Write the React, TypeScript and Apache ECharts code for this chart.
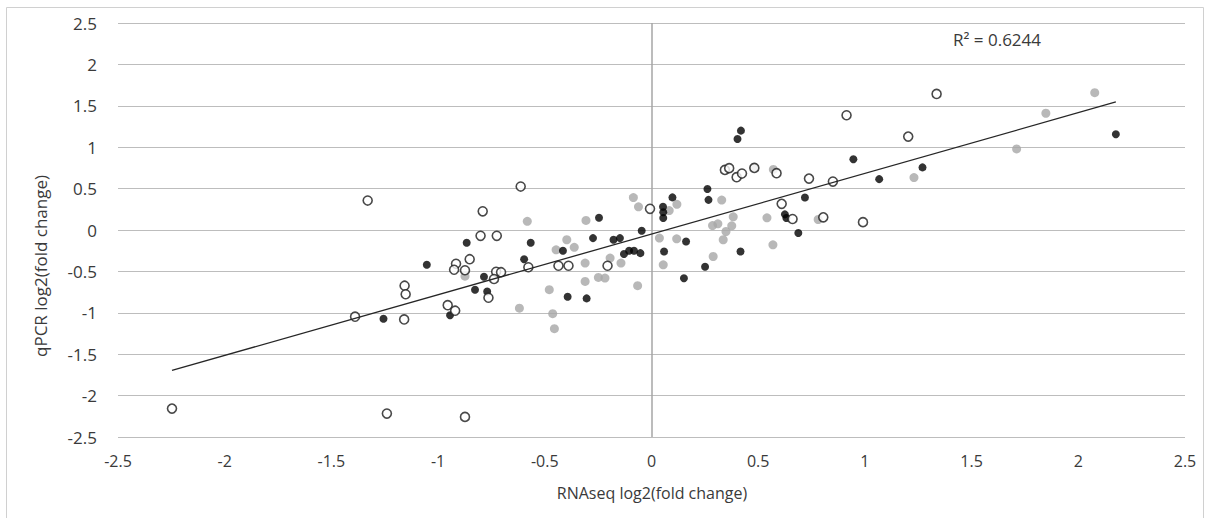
import React, { useEffect, useRef } from "react";
import * as echarts from "echarts";

const xTickMin = -2.5;
const xTickMax = 2.5;
const yTickMin = -2.5;
const yTickMax = 2.5;
const tickStep = 0.5;

const xTitle = "RNAseq log2(fold change)";
const yTitle = "qPCR log2(fold change)";
const r2Label = "R² = 0.6244";

const TREND_SLOPE = 0.733;
const TREND_INTERCEPT = -0.049;

const hollowPoints: [number, number][] = [
  [-2.247, -2.157], [-1.33, 0.356], [-1.24, -2.217], [-1.389, -1.047],
  [-1.157, -0.673], [-1.152, -0.776], [-1.159, -1.08], [-0.955, -0.908],
  [-0.92, -0.975], [-0.916, -0.408], [-0.925, -0.48], [-0.852, -0.353],
  [-0.874, -0.486], [-0.874, -2.257], [-0.613, 0.525], [-0.791, 0.226],
  [-0.801, -0.07], [-0.725, -0.07], [-0.577, -0.45], [-0.728, -0.504],
  [-0.705, -0.51], [-0.738, -0.592], [-0.764, -0.818], [-0.436, -0.432],
  [-0.389, -0.432], [-0.206, -0.432], [-0.007, 0.256], [0.344, 0.726],
  [0.364, 0.747], [0.399, 0.638], [0.424, 0.682], [0.482, 0.75],
  [0.586, 0.686], [0.738, 0.621], [0.85, 0.585], [0.61, 0.316],
  [0.661, 0.133], [0.805, 0.153], [0.991, 0.095], [0.914, 1.386],
  [1.203, 1.128], [1.336, 1.643],
];

const blackPoints: [number, number][] = [
  [-1.256, -1.071], [-1.053, -0.42], [-0.866, -0.154], [-0.827, -0.721],
  [-0.944, -1.029], [-0.785, -0.565], [-0.77, -0.742], [-0.566, -0.154],
  [-0.597, -0.353], [-0.415, -0.251], [-0.393, -0.806], [-0.304, -0.826],
  [-0.274, -0.098], [-0.246, 0.147], [-0.178, -0.118], [-0.148, -0.098],
  [-0.129, -0.29], [-0.105, -0.251], [-0.082, -0.251], [-0.052, -0.279],
  [-0.046, -0.01], [0.054, 0.28], [0.055, 0.215], [0.055, 0.144],
  [0.098, 0.394], [0.262, 0.495], [0.267, 0.364], [0.059, -0.259],
  [0.162, -0.139], [0.152, -0.583], [0.251, -0.444], [0.417, -0.259],
  [0.419, 1.2], [0.403, 1.1], [0.625, 0.189], [0.632, 0.144],
  [0.688, -0.037], [0.719, 0.392], [0.946, 0.855], [1.067, 0.614],
  [1.27, 0.756], [2.176, 1.157],
];

const grayPoints: [number, number][] = [
  [-0.874, -0.558], [-0.582, 0.105], [-0.619, -0.944], [-0.479, -0.721],
  [-0.463, -1.011], [-0.455, -1.192], [-0.447, -0.239], [-0.397, -0.118],
  [-0.362, -0.209], [-0.307, 0.115], [-0.311, -0.399], [-0.311, -0.621],
  [-0.249, -0.573], [-0.218, -0.58], [-0.194, -0.339], [-0.143, -0.399],
  [-0.085, 0.392], [-0.061, 0.28], [-0.065, -0.673], [0.083, 0.234],
  [0.119, 0.31], [0.037, -0.098], [0.118, -0.106], [0.055, -0.42],
  [0.289, -0.32], [0.286, 0.054], [0.311, 0.075], [0.329, 0.361],
  [0.383, 0.159], [0.376, 0.051], [0.349, -0.018], [0.336, -0.118],
  [0.48, 0.756], [0.571, 0.732], [0.541, 0.147], [0.569, -0.179],
  [0.781, 0.127], [1.23, 0.633], [1.711, 0.979], [1.848, 1.41],
  [2.077, 1.659],
];

const FONT = "'Open Sans', 'Noto Sans', sans-serif";
const TEXT_COLOR = "#3a3a3a";

export default function App() {
  const ref = useRef<HTMLDivElement>(null);

  useEffect(() => {
    if (!ref.current) return;
    const chart = echarts.init(ref.current, null, { renderer: "svg" });

    const allX = [...hollowPoints, ...blackPoints, ...grayPoints].map((p) => p[0]);
    const xLo = Math.min(...allX);
    const xHi = Math.max(...allX);
    const trend: [number, number][] = [
      [xLo, TREND_SLOPE * xLo + TREND_INTERCEPT],
      [xHi, TREND_SLOPE * xHi + TREND_INTERCEPT],
    ];

    chart.setOption({
      animation: false,
      backgroundColor: "#ffffff",
      grid: { left: 118, right: 25, top: 23, bottom: 81, containLabel: false },
      xAxis: {
        type: "value",
        min: xTickMin,
        max: xTickMax,
        interval: tickStep,
        axisLine: { show: false },
        axisTick: { show: false },
        splitLine: { show: false },
        axisLabel: {
          color: TEXT_COLOR,
          fontFamily: FONT,
          fontSize: 16,
          margin: 16,
        },
      },
      yAxis: {
        type: "value",
        min: yTickMin,
        max: yTickMax,
        interval: tickStep,
        axisLine: { show: false },
        axisTick: { show: false },
        splitLine: { show: true, lineStyle: { color: "#bdbdbd", width: 1.2 } },
        axisLabel: {
          color: TEXT_COLOR,
          fontFamily: FONT,
          fontSize: 17,
          margin: 21,
        },
      },
      graphic: [
        {
          type: "rect",
          shape: { x: 6.5, y: 7.5, width: 1197, height: 530 },
          style: { fill: "none", stroke: "#d0d0d0", lineWidth: 1 },
          silent: true,
          z: -10,
        },
        {
          type: "text",
          x: 953,
          y: 31,
          style: {
            text: r2Label,
            fill: TEXT_COLOR,
            font: `17px ${FONT}`,
          },
        },
        {
          type: "text",
          x: 652,
          y: 493,
          style: {
            text: xTitle,
            fill: TEXT_COLOR,
            font: `16px ${FONT}`,
            align: "center",
            verticalAlign: "middle",
          },
        },
        {
          type: "text",
          x: 40,
          y: 266,
          rotation: Math.PI / 2,
          style: {
            text: yTitle,
            fill: TEXT_COLOR,
            font: `17px ${FONT}`,
            align: "center",
            verticalAlign: "middle",
          },
        },
      ],
      series: [
        {
          type: "line",
          data: [],
          markLine: {
            silent: true,
            symbol: "none",
            label: { show: false },
            lineStyle: { color: "#a6a6a6", width: 1.5, type: "solid" },
            data: [{ xAxis: 0 }],
          },
        },
        {
          name: "gray",
          type: "scatter",
          data: grayPoints,
          symbol: "circle",
          symbolSize: 9,
          itemStyle: { color: "#a6a6a6" },
          z: 3,
        },
        {
          name: "black",
          type: "scatter",
          data: blackPoints,
          symbol: "circle",
          symbolSize: 8,
          itemStyle: { color: "#000000" },
          z: 4,
        },
        {
          name: "hollow",
          type: "scatter",
          data: hollowPoints,
          symbol: "circle",
          symbolSize: 9,
          itemStyle: { color: "#ffffff", borderColor: "#1a1a1a", borderWidth: 1.6 },
          z: 5,
        },
        {
          name: "trend",
          type: "line",
          data: trend,
          symbol: "none",
          lineStyle: { color: "#262626", width: 1.3 },
          z: 6,
        },
      ],
    });

    return () => chart.dispose();
  }, []);

  return (
    <div
      ref={ref}
      style={{ position: "fixed", left: 0, top: 0, width: 1210, height: 518, background: "#fff" }}
    />
  );
}
